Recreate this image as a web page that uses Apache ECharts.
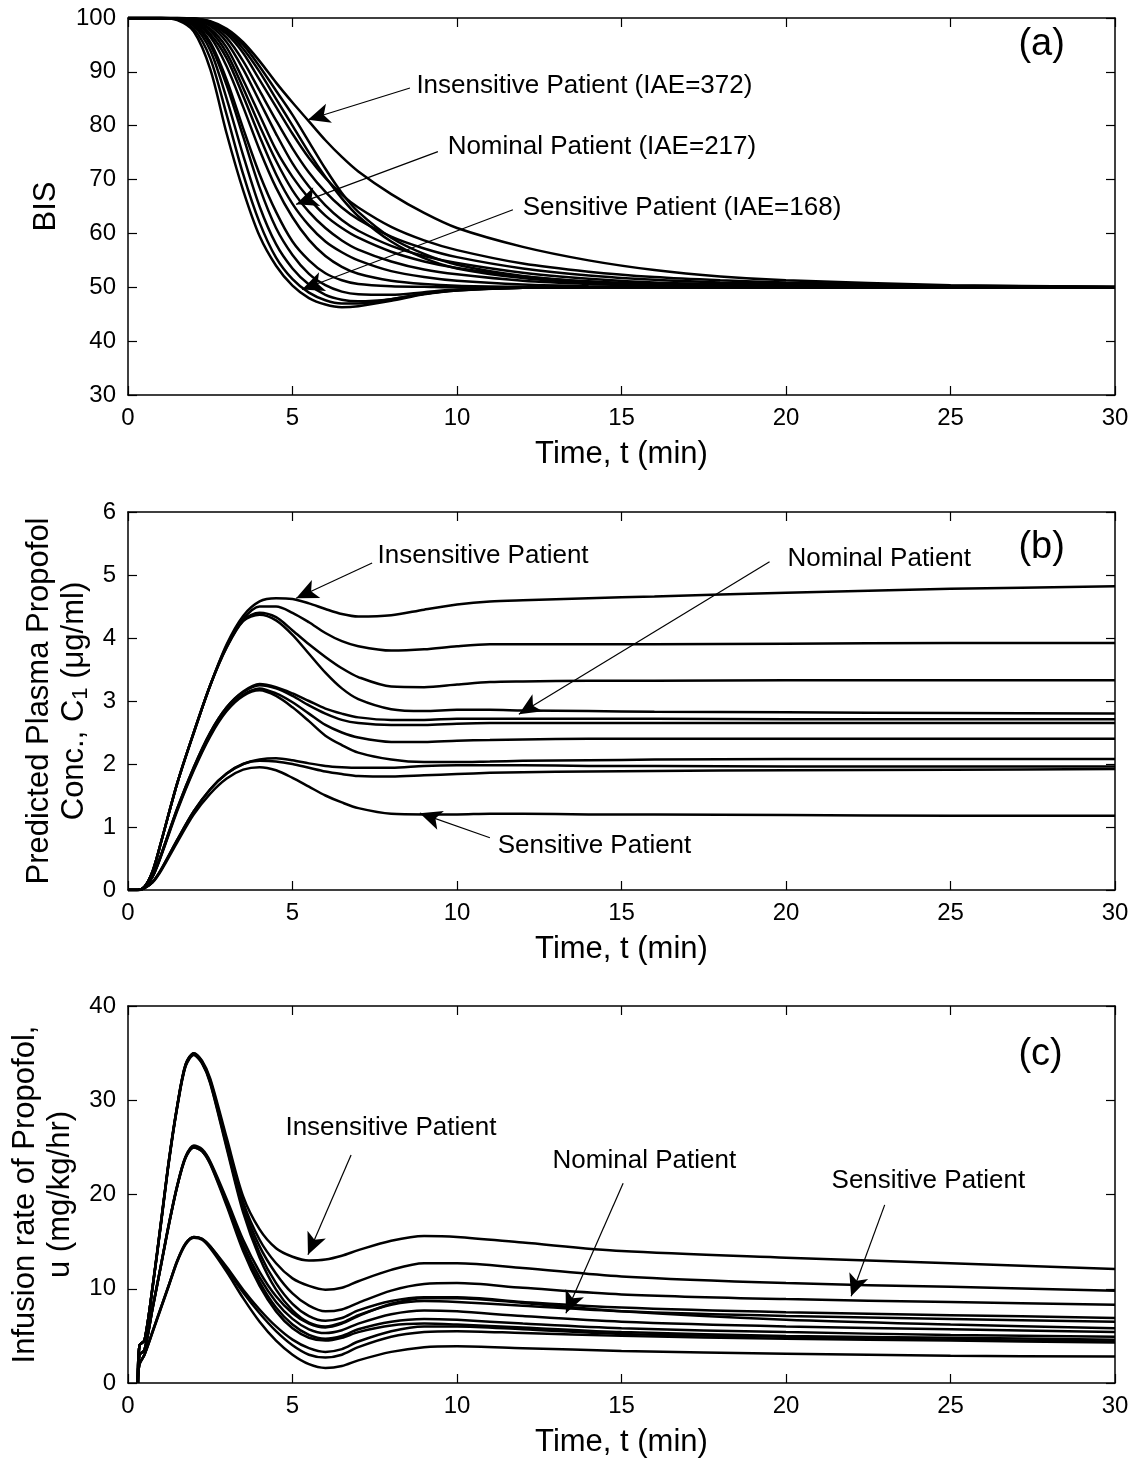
<!DOCTYPE html>
<html><head><meta charset="utf-8">
<script src="https://cdn.jsdelivr.net/npm/echarts@6/dist/echarts.min.js"></script>
<style>html,body{margin:0;padding:0;background:#fff}#c{width:1144px;height:1460px}</style>
</head><body><div id="c"></div>
<script>
// ---- Panel (a): BIS ----
const tA = [0,1,1.5,2,2.5,3,3.5,4,4.5,5,5.5,6,6.5,7,8,9,10,12,14,16,18,20,25,30];
const bis01 = [100,100,99.6,97.5,90.5,78.5,68,59.5,54,50.3,48,46.8,46.3,46.5,47.5,48.7,49.4,49.9,50,50,50,50,50,50];
const bis02 = [100,100,99.7,98,92.5,82,71,62,55.5,51.5,49,47.6,47,47,47.8,48.8,49.5,49.9,50,50,50,50,50,50];
const bis03 = [100,100,99.8,98.5,94,85,74.5,65,58,53.5,50.5,48.6,47.7,47.4,47.8,48.8,49.4,49.9,50,50,50,50,50,50];
const bis04 = [100,100,99.8,98.8,95,87.5,78,68.5,61,56,52.5,50.4,49.2,48.7,48.6,49.1,49.6,49.9,50,50,50,50,50,50];
const bis05 = [100,100,99.9,99,95.5,88.5,79.5,71,64,58.5,55,52.6,51.3,50.6,50.2,50.1,50,50,50,50,50,50,50,50];
const bis06 = [100,100,99.9,99.2,96.5,91,83.5,75.5,68.5,63,58.8,55.8,53.8,52.5,51.2,50.6,50.3,50.1,50,50,50,50,50,50];
const bis07 = [100,100,99.9,99.4,97,92.5,85.5,78,71,65.5,61.5,58.5,56.5,55,53,51.9,51.2,50.5,50.2,50.1,50,50,50,50];
const bis08 = [100,100,99.9,99.5,97.6,93.5,87,80,73.5,68,64,61,58.7,57,54.8,53.3,52.4,51.2,50.6,50.3,50.1,50.1,50,50];
const bis09 = [100,100,99.9,99.6,98,94.5,88.5,82,75.5,70.5,66.5,63.3,61,59.2,56.6,54.8,53.6,52,51.1,50.6,50.3,50.2,50,50];
const bis10 = [100,100,100,99.7,98.5,95.5,90.5,84.5,78.5,73,68.7,65.2,62.5,60.5,57.7,55.8,54.5,52.7,51.6,50.9,50.6,50.4,50.1,50];
const bis11 = [100,100,100,99.8,98.8,96.3,92,86.5,81,75.8,71.3,67.7,64.8,62.6,59.4,57.2,55.6,53.5,52.2,51.4,50.9,50.6,50.2,50];
const bis12 = [100,100,100,99.8,99,97,93.5,88.5,83.5,78.5,74,70.3,67.2,64.8,61.2,58.7,56.9,54.4,52.9,51.9,51.3,50.9,50.3,50.1];
const bis13 = [100,100,100,99.9,99.2,97.4,94.3,90,85,80,75,70.5,66.5,63.2,58.5,55.4,53.5,51.7,50.8,50.4,50.2,50.1,50,50];
const bis14 = [100,100,100,99.9,99.3,97.7,95,91,86.5,82,77,72,67.5,64,59.2,56.2,54.2,52.1,51,50.5,50.2,50.1,50,50];
const bis15 = [100,100,100,99.9,99.4,98,95.5,92,88,84.3,80.8,77.3,74.2,71.5,67.3,63.8,61,57.5,55,53.2,52,51.3,50.4,50.1];

// ---- Panel (b): predicted plasma concentration ----
const tB = [0,0.3,0.5,0.75,1,1.5,2,2.5,3,3.5,4,4.5,5,5.5,6,6.5,7,8,9,10,11,12,14,16,20,25,30];
const c01 = [0,0,0.05,0.3,0.75,1.7,2.5,3.25,3.9,4.35,4.58,4.63,4.62,4.55,4.46,4.38,4.34,4.36,4.45,4.53,4.58,4.6,4.63,4.66,4.72,4.78,4.82];
const c02 = [0,0,0.05,0.3,0.75,1.7,2.5,3.25,3.88,4.3,4.5,4.5,4.4,4.25,4.08,3.95,3.87,3.8,3.82,3.87,3.9,3.9,3.9,3.9,3.91,3.92,3.92];
const c03 = [0,0,0.05,0.3,0.75,1.7,2.5,3.25,3.86,4.28,4.4,4.33,4.12,3.9,3.7,3.52,3.38,3.23,3.22,3.26,3.3,3.31,3.32,3.32,3.33,3.33,3.33];
const c04 = [0,0,0.05,0.3,0.75,1.7,2.5,3.25,3.85,4.27,4.37,4.28,4.05,3.75,3.45,3.2,3.03,2.87,2.84,2.86,2.86,2.85,2.84,2.83,2.82,2.81,2.8];
const c05 = [0,0,0.04,0.22,0.55,1.3,1.95,2.5,2.9,3.15,3.27,3.22,3.12,3.0,2.88,2.8,2.74,2.7,2.7,2.72,2.72,2.72,2.72,2.72,2.71,2.71,2.71];
const c06 = [0,0,0.04,0.22,0.55,1.3,1.95,2.5,2.9,3.14,3.25,3.2,3.08,2.93,2.8,2.7,2.65,2.62,2.62,2.64,2.65,2.65,2.65,2.65,2.65,2.65,2.65];
const c07 = [0,0,0.04,0.22,0.54,1.28,1.92,2.46,2.86,3.1,3.2,3.12,2.98,2.8,2.62,2.5,2.42,2.35,2.35,2.37,2.38,2.39,2.4,2.4,2.4,2.4,2.4];
const c08 = [0,0,0.04,0.21,0.53,1.26,1.9,2.44,2.84,3.08,3.17,3.08,2.9,2.68,2.45,2.3,2.18,2.07,2.03,2.03,2.04,2.05,2.06,2.07,2.08,2.08,2.08];
const c09 = [0,0,0.03,0.13,0.32,0.8,1.25,1.6,1.85,2.0,2.07,2.09,2.06,2.01,1.97,1.95,1.94,1.94,1.97,1.98,1.98,1.98,1.97,1.97,1.96,1.96,1.96];
const c10 = [0,0,0.03,0.13,0.32,0.8,1.25,1.6,1.85,2.0,2.05,2.04,2.0,1.94,1.88,1.84,1.81,1.8,1.82,1.84,1.86,1.87,1.88,1.89,1.9,1.91,1.92];
const c11 = [0,0,0.03,0.12,0.3,0.76,1.2,1.53,1.77,1.91,1.95,1.9,1.78,1.64,1.5,1.39,1.3,1.21,1.2,1.2,1.21,1.21,1.2,1.2,1.19,1.18,1.18];

// ---- Panel (c): infusion rate ----
const tC = [0.3,0.35,0.5,0.75,1,1.25,1.5,1.75,2,2.25,2.5,3,3.5,4,4.5,5,5.5,6,6.5,7,8,9,10,12,15,20,25,30];
const u01 = [0,4,4.5,10.3,17,23.8,29.5,33.8,35,34.2,32.3,26,19.8,16.3,14.3,13.4,13.0,13.1,13.5,14.1,15.1,15.6,15.5,14.9,14.0,13.3,12.7,12.1];
const u02 = [0,4,4.5,10.3,17,23.8,29.5,33.8,35,34.1,32.1,25.6,19.2,15.2,12.7,11.1,10.3,9.9,10.1,10.8,12.0,12.7,12.7,12.2,11.3,10.6,10.2,9.8];
const u03 = [0,4,4.5,10.2,16.9,23.7,29.4,33.7,34.9,34.0,32.0,25.3,18.8,14.5,11.6,9.5,8.2,7.6,7.8,8.5,9.8,10.5,10.6,10.1,9.4,8.9,8.6,8.3];
const u04 = [0,4,4.5,10.2,16.9,23.7,29.4,33.7,34.9,34.0,31.9,25.1,18.4,13.8,10.6,8.4,7.1,6.6,6.9,7.7,8.7,9.1,9.1,8.6,8.0,7.5,7.2,6.9];
const u05 = [0,4,4.5,10.2,16.8,23.6,29.3,33.6,34.8,33.9,31.8,24.9,18.1,13.3,9.9,7.7,6.4,6.0,6.4,7.2,8.3,8.7,8.6,8.2,7.6,7.1,6.8,6.5];
const u06 = [0,3,3.5,8,12.5,17,21,24,25.2,24.8,23.5,19.5,15.2,11.8,9.2,7.4,6.3,5.9,6.3,7.1,8.4,9.0,9.0,8.5,7.6,6.7,6.2,5.8];
const u07 = [0,3,3.5,8,12.5,17,21,24,25.1,24.7,23.4,19.2,14.7,11.2,8.6,6.8,5.7,5.3,5.6,6.3,7.3,7.7,7.6,7.1,6.5,6.0,5.7,5.4];
const u08 = [0,3,3.5,8,12.4,16.9,20.9,23.9,25.0,24.6,23.3,19.0,14.3,10.7,8.0,6.2,5.1,4.7,5.0,5.7,6.5,6.8,6.7,6.3,5.8,5.4,5.1,4.9];
const u09 = [0,3,3.5,7.9,12.4,16.9,20.9,23.9,25.0,24.6,23.2,18.8,14.0,10.3,7.6,5.8,4.8,4.5,4.8,5.4,6.1,6.3,6.2,5.9,5.4,5.0,4.8,4.6];
const u10 = [0,2,3,5.5,8,10.5,13,14.8,15.5,15.3,14.5,12.3,9.9,7.8,6.0,4.6,3.7,3.3,3.6,4.4,5.5,6.0,6.0,5.7,5.2,4.9,4.6,4.4];
const u11 = [0,2,3,5.5,8,10.5,13,14.8,15.5,15.3,14.5,12.1,9.6,7.4,5.5,4.0,3.0,2.7,3.0,3.8,4.9,5.4,5.5,5.3,5.0,4.7,4.5,4.3];
const u12 = [0,2,3,5.4,7.9,10.4,12.9,14.7,15.4,15.2,14.3,11.8,9.0,6.5,4.5,3.0,2.0,1.6,1.8,2.4,3.3,3.8,3.9,3.7,3.4,3.1,2.9,2.8];

// ---- Axis tick settings & annotations ----
const xTicks = {min:0, max:30, interval:5};
const yTicksA = {min:30, max:100, interval:10};
const yTicksB = {min:0, max:6, interval:1};
const yTicksC = {min:0, max:40, interval:10};

const notesA = [
  {text:'Insensitive Patient (IAE=372)', at:[8.75,87.4], tail:[8.57,87.0], head:[5.47,81.1]},
  {text:'Nominal Patient (IAE=217)', at:[9.70,76.1], tail:[9.42,75.2], head:[5.11,65.4]},
  {text:'Sensitive Patient (IAE=168)', at:[11.98,64.8], tail:[11.7,64.4], head:[5.29,49.6]}
];
const notesB = [
  {text:'Insensitive Patient', at:[7.57,5.30], tail:[7.42,5.19], head:[5.11,4.63]},
  {text:'Nominal Patient', at:[20.03,5.25], tail:[19.5,5.21], head:[11.88,2.79]},
  {text:'Sensitive Patient', at:[11.22,0.70], tail:[11.0,0.83], head:[8.87,1.22]}
];
const notesC = [
  {text:'Insensitive Patient', at:[4.77,27.1], tail:[6.78,24.2], head:[5.47,13.6]},
  {text:'Nominal Patient', at:[12.89,23.6], tail:[15.05,21.2], head:[13.31,7.4]},
  {text:'Sensitive Patient', at:[21.37,21.4], tail:[23.0,18.9], head:[21.98,9.2]}
];
const panelTags = [{text:'(a)', at:[27.05,95]}, {text:'(b)', at:[27.05,5.43]}, {text:'(c)', at:[27.05,34.8]}];

const FONT = 'Liberation Sans, Arial, Helvetica, sans-serif';
const grids = [
  {left:128, top:18, width:987, height:377},
  {left:128, top:512, width:987, height:378},
  {left:128, top:1006, width:987, height:377}
];

function xAxes(g){
  const base = Object.assign({gridIndex:g, type:'value'}, xTicks, {
    axisLine:{onZero:false, lineStyle:{color:'#000', width:1.5}},
    axisTick:{inside:true, length:9, lineStyle:{color:'#000', width:1.2}},
    splitLine:{show:false}
  });
  const bottom = Object.assign({}, base, {position:'bottom',
    axisLabel:{color:'#000', fontSize:24, margin:11, fontFamily:FONT},
    name:'Time, t (min)', nameLocation:'middle', nameGap:44,
    nameTextStyle:{color:'#000', fontSize:31, fontFamily:FONT}});
  const top = Object.assign({}, base, {position:'top', axisLabel:{show:false}});
  return [bottom, top];
}
function yAxes(g, ticks, name, gap){
  const base = Object.assign({gridIndex:g, type:'value'}, ticks, {
    axisLine:{onZero:false, lineStyle:{color:'#000', width:1.5}},
    axisTick:{inside:true, length:9, lineStyle:{color:'#000', width:1.2}},
    splitLine:{show:false}
  });
  const left = Object.assign({}, base, {position:'left',
    axisLabel:{color:'#000', fontSize:24, margin:12, fontFamily:FONT},
    name:name, nameLocation:'middle', nameGap:gap,
    nameTextStyle:{color:'#000', fontSize:31, lineHeight:35, fontFamily:FONT,
      rich:{s:{fontSize:22, fontFamily:FONT, color:'#000', verticalAlign:'bottom', lineHeight:35, padding:[0,0,0,0]}}}});
  const right = Object.assign({}, base, {position:'right', axisLabel:{show:false}});
  return [left, right];
}

function curve(t, vals, g){
  return {type:'line', xAxisIndex:2*g, yAxisIndex:2*g, data:t.map((x,i)=>[x, vals[i]]),
    symbol:'none', smooth:0.3, silent:true, lineStyle:{color:'#000', width:2.5}, z:3};
}
function annotate(s, notes, tag){
  s.markLine = {silent:true, symbol:['none','arrow'], symbolSize:[15,22],
    lineStyle:{color:'#000', width:1.2, type:'solid'}, label:{show:false},
    data: notes.map(n=>[{coord:n.tail},{coord:n.head}])};
  const pts = notes.map(n=>({name:n.text, coord:n.at, label:{fontSize:26}}));
  pts.push({name:tag.text, coord:tag.at, label:{fontSize:38}});
  s.markPoint = {silent:true, symbol:'circle', symbolSize:1, itemStyle:{color:'rgba(0,0,0,0)'},
    label:{show:true, position:'right', distance:0, color:'#000', fontFamily:FONT, formatter:'{b}'},
    data: pts};
  return s;
}

const sA = [bis01,bis02,bis03,bis04,bis05,bis06,bis07,bis08,bis09,bis10,bis11,bis12,bis13,bis14,bis15].map(v=>curve(tA,v,0));
const sB = [c01,c02,c03,c04,c05,c06,c07,c08,c09,c10,c11].map(v=>curve(tB,v,1));
const sC = [u01,u02,u03,u04,u05,u06,u07,u08,u09,u10,u11,u12].map(v=>curve(tC,v,2));
annotate(sA[0], notesA, panelTags[0]);
annotate(sB[0], notesB, panelTags[1]);
annotate(sC[0], notesC, panelTags[2]);

const chart = echarts.init(document.getElementById('c'), null, {renderer:'canvas'});
chart.setOption({
  animation:false,
  backgroundColor:'#fff',
  grid: grids,
  xAxis: [].concat(xAxes(0), xAxes(1), xAxes(2)),
  yAxis: [].concat(
    yAxes(0, yTicksA, 'BIS', 64),
    yAxes(1, yTicksB, 'Predicted Plasma Propofol\nConc., C{s|1} (μg/ml)', 36),
    yAxes(2, yTicksC, 'Infusion rate of Propofol,\nu (mg/kg/hr)', 36)
  ),
  series: [].concat(sA, sB, sC)
});
</script></body></html>
